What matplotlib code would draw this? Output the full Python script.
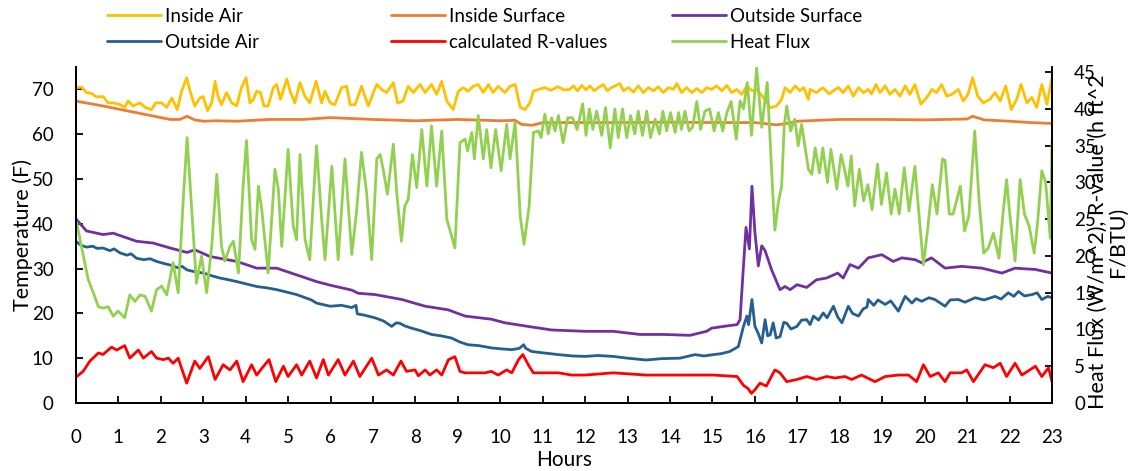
import matplotlib
matplotlib.use("Agg")
import matplotlib.pyplot as plt

plt.rcParams['font.family'] = ['Lato', 'DejaVu Sans']
plt.rcParams['font.size'] = 13.5

# Inside Air (F)
ia_h = [0.02, 0.13, 0.25, 0.37, 0.49, 0.64, 0.76, 0.88, 1.04, 1.15, 1.23, 1.35, 1.51, 1.63, 1.78, 1.88, 2.02,
        2.14, 2.26, 2.39, 2.49, 2.61, 2.70, 2.80, 2.92, 3.00, 3.10, 3.20, 3.28, 3.35, 3.43, 3.55, 3.67, 3.79,
        3.90, 4.01, 4.10, 4.18, 4.26, 4.35, 4.43, 4.53, 4.65, 4.73, 4.82, 4.97, 5.06, 5.16, 5.28, 5.40, 5.51,
        5.66, 5.79, 5.87, 5.99, 6.10, 6.26, 6.38, 6.46, 6.58, 6.73, 6.89, 7.01, 7.09, 7.20, 7.32, 7.48, 7.58,
        7.71, 7.83, 7.95, 8.11, 8.23, 8.38, 8.50, 8.62, 8.74, 8.89, 9.01, 9.13, 9.24, 9.36, 9.48, 9.60, 9.72,
        9.83, 9.95, 10.11, 10.23, 10.35, 10.47, 10.58, 10.70, 10.78, 10.90, 11.05, 11.20, 11.35, 11.50,
        11.64, 11.72, 11.82, 11.92, 12.02, 12.11, 12.21, 12.31, 12.43, 12.52, 12.62, 12.82, 12.90, 13.02,
        13.14, 13.25, 13.37, 13.49, 13.61, 13.72, 13.84, 13.96, 14.08, 14.16, 14.27, 14.39, 14.51, 14.63,
        14.75, 14.86, 14.98, 15.10, 15.22, 15.34, 15.45, 15.57, 15.69, 15.81, 15.93, 16.04, 16.20, 16.36,
        16.51, 16.63, 16.71, 16.83, 16.95, 17.06, 17.15, 17.26, 17.30, 17.45, 17.60, 17.75, 17.89, 17.97,
        18.08, 18.20, 18.32, 18.44, 18.56, 18.67, 18.75, 18.85, 18.95, 19.07, 19.18, 19.30, 19.42, 19.54,
        19.65, 19.77, 19.91, 20.05, 20.17, 20.28, 20.40, 20.52, 20.64, 20.79, 20.91, 21.02, 21.13, 21.25,
        21.38, 21.54, 21.66, 21.78, 21.91, 22.04, 22.17, 22.27, 22.41, 22.52, 22.64, 22.76, 22.88, 23.0]
ia_t = [70.4, 70.5, 69.3, 69.1, 68.3, 68.4, 67.0, 67.0, 66.6, 66.0, 67.4, 66.3, 67.0, 66.0, 65.5, 67.0, 67.0,
        66.0, 68.1, 65.5, 69.6, 72.6, 69.3, 66.3, 68.1, 68.4, 65.2, 67.0, 71.8, 68.4, 66.6, 69.3, 67.0, 66.3,
        70.4, 72.6, 67.0, 67.7, 69.6, 69.3, 66.3, 66.3, 70.4, 71.1, 67.8, 72.3, 69.3, 67.0, 71.5, 68.4, 67.0,
        71.8, 67.0, 69.6, 67.0, 66.6, 70.4, 70.7, 66.6, 66.6, 70.7, 66.3, 69.3, 71.1, 70.0, 69.3, 71.5, 67.0,
        67.4, 70.7, 69.3, 71.1, 69.3, 71.1, 68.9, 71.8, 67.4, 65.5, 69.6, 70.4, 69.6, 70.7, 71.1, 69.3, 71.1,
        69.3, 70.7, 69.3, 70.7, 71.1, 66.0, 65.5, 67.0, 69.6, 70.0, 70.4, 69.8, 70.6, 69.9,
        70.0, 70.8, 69.7, 70.9, 69.9, 70.8, 69.7, 70.4, 71.1, 69.7, 70.4, 71.3, 69.7, 70.4,
        69.4, 70.8, 69.3, 70.4, 69.7, 70.6, 69.3, 70.4, 70.0, 71.3, 69.3, 70.4, 69.3, 70.2,
        69.3, 70.4, 70.0, 70.8, 69.7, 70.9, 69.3, 70.0, 68.9, 70.8, 69.7, 70.0, 68.2, 65.9,
        66.3, 67.8, 70.4, 69.3, 70.8, 69.7, 70.4, 67.8, 70.0, 69.3, 70.4, 69.0, 70.0, 70.4,
        69.3, 70.8, 68.5, 70.4, 69.3, 70.0, 69.0, 71.1, 69.3, 70.8, 68.9, 70.0, 68.5, 70.8,
        68.9, 71.1, 66.7, 68.2, 70.0, 69.3, 71.1, 68.5, 68.9, 70.0, 67.4, 68.9, 72.6, 68.5,
        67.0, 67.8, 69.3, 67.4, 70.8, 65.5, 67.8, 71.1, 67.0, 68.2, 66.0, 71.1, 66.7, 72.6]

# Inside Surface (F)
is_h = [0.0, 0.64, 1.43, 2.22, 2.45, 2.62, 2.8, 3.0, 3.3, 3.79, 4.57, 5.36, 5.99, 7.0, 8.0, 9.0, 10.0, 10.35,
        10.5, 10.75, 11.0, 12.0, 13.0, 14.0, 15.0, 16.0, 16.3, 16.5, 16.7, 17.0, 18.0, 19.0, 20.0, 21.0, 21.13,
        21.4, 22.0, 22.5, 23.0]
is_t = [67.4, 66.3, 64.8, 63.3, 63.3, 64.0, 63.2, 62.9, 63.0, 62.9, 63.3, 63.3, 63.7, 63.3, 63.0, 63.3, 63.0,
        63.1, 62.2, 62.0, 62.6, 62.6, 62.6, 62.7, 62.6, 62.6, 62.3, 62.1, 62.3, 62.9, 63.3, 63.3, 63.2, 63.4,
        64.0, 63.2, 62.9, 62.6, 62.4]

# Outside Surface (F)
os_h = [0.0, 0.25, 0.64, 0.88, 1.43, 1.82, 2.22, 2.62, 2.80, 3.16, 3.79, 4.26, 4.73, 5.20, 5.67, 5.99, 6.50,
        6.65, 7.05, 7.68, 8.23, 8.77, 9.17, 9.79, 10.11, 10.58, 11.21, 12.0, 12.66, 13.29, 13.84, 14.47,
        14.86, 14.98, 15.26, 15.58, 15.65, 15.73, 15.79, 15.87, 15.93, 16.00, 16.08, 16.16, 16.24, 16.39,
        16.59, 16.71, 16.83, 16.99, 17.22, 17.45, 17.69, 17.95, 18.08, 18.24, 18.44, 18.67, 18.99, 19.26,
        19.46, 19.77, 19.93, 20.16, 20.48, 20.87, 21.35, 21.82, 22.13, 22.61, 23.0]
os_t = [41.1, 38.4, 37.6, 37.9, 36.1, 35.7, 34.6, 33.6, 34.2, 32.7, 31.6, 30.1, 30.1, 28.6, 27.1, 26.3, 25.2,
        24.5, 24.2, 23.1, 21.6, 20.8, 19.4, 18.7, 17.9, 17.2, 16.3, 16.0, 16.0, 15.3, 15.3, 15.1,
        16.0, 16.7, 17.1, 17.5, 18.6, 30.6, 39.2, 34.4, 48.4, 38.1, 30.6, 35.1, 34.0, 29.8,
        25.3, 26.0, 25.3, 26.4, 25.8, 27.5, 27.9, 29.0, 27.9, 30.9, 30.1, 32.4, 33.1, 31.6,
        32.4, 32.0, 31.3, 32.4, 30.1, 30.5, 30.1, 29.0, 30.1, 29.8, 29.0]

# Outside Air (F)
oa_h = [0.0, 0.12, 0.25, 0.4, 0.5, 0.64, 0.8, 0.9, 1.04, 1.2, 1.3, 1.43, 1.6, 1.75, 1.9, 2.05, 2.22, 2.4, 2.5,
        2.62, 2.8, 3.01, 3.2, 3.39, 3.6, 3.79, 4.0, 4.26, 4.5, 4.73, 4.95, 5.2, 5.4, 5.55, 5.67, 5.85, 5.99,
        6.26, 6.5, 6.60, 6.63, 6.8, 7.05, 7.25, 7.44, 7.55, 7.63, 7.75, 7.91, 8.1, 8.38, 8.6, 8.85, 9.05,
        9.24, 9.5, 9.79, 10.0, 10.27, 10.45, 10.55, 10.6, 10.74, 11.0, 11.37, 11.7, 12.0, 12.3, 12.66, 13.0,
        13.44, 13.8, 14.23, 14.59, 14.8, 15.02, 15.2, 15.41, 15.61, 15.73, 15.81, 15.85, 15.93, 16.0, 16.08,
        16.16, 16.24, 16.30, 16.36, 16.43, 16.5, 16.59, 16.68, 16.75, 16.85, 16.99, 17.1, 17.22, 17.3,
        17.38, 17.5, 17.61, 17.7, 17.85, 17.95, 18.05, 18.2, 18.3, 18.44, 18.55, 18.64, 18.67, 18.8, 18.9,
        19.07, 19.2, 19.38, 19.54, 19.7, 19.8, 19.93, 20.1, 20.24, 20.35, 20.48, 20.6, 20.79, 20.95, 21.19,
        21.4, 21.66, 21.8, 21.97, 22.1, 22.21, 22.35, 22.53, 22.65, 22.76, 22.9, 23.0]
oa_t = [36.1, 35.2, 34.8, 35.0, 34.5, 34.6, 34.0, 34.4, 33.5, 33.0, 33.3, 32.3, 32.0, 32.2, 31.6, 31.2, 30.8,
        30.2, 30.5, 29.7, 29.3, 29.0, 28.4, 27.9, 27.5, 27.1, 26.6, 26.0, 25.7, 25.3, 24.8, 24.2, 23.5, 23.0,
        22.3, 21.9, 21.6, 21.8, 21.3, 21.8, 19.9, 19.6, 19.0, 18.3, 17.1, 17.9, 17.8, 17.2, 16.7, 16.2,
        15.3, 15.0, 14.5, 13.6, 13.0, 12.8, 12.3, 12.1, 11.9, 12.2, 13.0, 12.2, 11.5, 11.2, 10.8, 10.5,
        10.4, 10.6, 10.4, 10.0, 9.6, 9.9, 10.0, 10.8, 10.5, 10.8, 11.0, 11.5, 12.6, 17.1, 19.4, 17.5,
        23.1, 17.1, 15.5, 13.4, 18.6, 15.0, 15.2, 17.9, 14.5, 14.8, 18.0, 17.8, 16.5, 17.1, 18.5, 18.6,
        17.5, 19.4, 18.5, 20.1, 19.0, 21.6, 19.2, 17.9, 21.6, 20.0, 19.4, 21.0, 21.4, 23.1, 21.8, 23.0,
        22.0, 22.8, 20.5, 23.8, 22.3, 23.3, 22.7, 23.5, 23.1, 22.4, 21.6, 23.0, 23.1, 22.5, 23.5, 23.0,
        23.8, 23.2, 24.6, 23.8, 24.9, 23.9, 24.2, 24.6, 23.1, 23.8, 23.5]

# calculated R-values (h ft^2 F/BTU)
rv_h = [0.02, 0.17, 0.33, 0.53, 0.64, 0.84, 0.96, 1.15, 1.27, 1.47, 1.59, 1.78, 1.90, 2.06, 2.18, 2.29, 2.41,
        2.61, 2.80, 2.92, 3.12, 3.28, 3.47, 3.63, 3.79, 3.94, 4.14, 4.26, 4.38, 4.55, 4.71, 4.89, 5.00, 5.20,
        5.32, 5.51, 5.67, 5.83, 5.95, 6.18, 6.34, 6.54, 6.69, 6.97, 7.13, 7.32, 7.48, 7.66, 7.79, 7.99,
        8.07, 8.23, 8.34, 8.50, 8.62, 8.78, 8.93, 9.05, 9.17, 9.40, 9.64, 9.79, 9.95, 10.15, 10.27, 10.43,
        10.53, 10.66, 10.78, 11.05, 11.37, 11.68, 12.0, 12.66, 13.44, 14.23, 15.02, 15.58, 15.73, 15.83,
        15.92, 16.00, 16.12, 16.27, 16.47, 16.59, 16.75, 16.99, 17.22, 17.45, 17.69, 17.89, 18.12, 18.28,
        18.51, 18.83, 19.07, 19.38, 19.62, 19.81, 19.97, 20.13, 20.32, 20.48, 20.60, 20.87, 20.99, 21.15,
        21.42, 21.62, 21.78, 21.93, 22.13, 22.29, 22.61, 22.76, 22.92, 23.0]
rv_v = [3.6, 4.3, 5.7, 6.8, 6.6, 7.6, 7.2, 7.8, 6.1, 7.2, 6.1, 7.0, 6.1, 5.9, 6.1, 5.4, 6.1,
        2.7, 5.7, 4.7, 6.3, 3.2, 5.2, 4.5, 5.7, 2.9, 5.2, 3.8, 4.7, 5.9, 2.9, 5.0, 3.6, 5.2,
        3.8, 5.7, 3.4, 5.9, 3.8, 5.9, 3.8, 5.7, 3.6, 6.1, 3.8, 4.5, 3.8, 5.7, 4.3, 4.5,
        3.7, 4.5, 3.8, 4.5, 3.8, 5.9, 6.3, 4.3, 4.1, 4.1, 4.1, 4.3, 3.8, 4.5, 4.1, 5.9,
        6.6, 5.2, 4.1, 4.1, 4.1, 3.8, 3.8, 4.1, 3.8, 3.8, 3.8, 3.6, 2.4, 2.0,
        1.3, 1.8, 2.7, 2.3, 4.5, 4.1, 2.9, 3.2, 3.6, 3.2, 3.6, 3.4, 3.6, 3.2,
        3.8, 2.9, 3.6, 3.8, 3.8, 2.9, 5.2, 3.6, 4.1, 2.9, 4.1, 4.1, 4.5, 2.9,
        5.2, 4.8, 5.4, 3.6, 5.4, 3.8, 5.0, 3.6, 4.8, 2.9]

# Heat Flux (W/m^2)
hf_h = [0.02, 0.13, 0.29, 0.41, 0.53, 0.64, 0.76, 0.88, 0.99, 1.15, 1.27, 1.39, 1.51, 1.63, 1.78, 1.90, 2.02,
        2.14, 2.29, 2.41, 2.53, 2.62, 2.73, 2.84, 2.96, 3.08, 3.20, 3.32, 3.43, 3.51, 3.63, 3.71, 3.83, 3.94,
        4.02, 4.14, 4.22, 4.30, 4.38, 4.53, 4.69, 4.77, 4.85, 5.00, 5.12, 5.20, 5.28, 5.40, 5.51, 5.67, 5.79,
        5.87, 6.03, 6.18, 6.34, 6.50, 6.61, 6.73, 6.85, 6.97, 7.09, 7.17, 7.24, 7.34, 7.48, 7.56, 7.67, 7.75,
        7.83, 7.93, 8.03, 8.15, 8.27, 8.38, 8.50, 8.62, 8.74, 8.93, 9.05, 9.17, 9.23, 9.33, 9.39, 9.48, 9.60,
        9.68, 9.78, 9.89, 10.02, 10.15, 10.23, 10.35, 10.47, 10.56, 10.68, 10.78, 10.90, 10.96, 11.05, 11.13,
        11.21, 11.29, 11.37, 11.48, 11.59, 11.70, 11.81, 11.94, 12.02, 12.10, 12.18, 12.27, 12.39, 12.48,
        12.59, 12.70, 12.78, 12.88, 12.98, 13.07, 13.17, 13.25, 13.35, 13.45, 13.54, 13.65, 13.75, 13.83,
        13.92, 14.01, 14.12, 14.20, 14.27, 14.35, 14.45, 14.53, 14.63, 14.72, 14.82, 14.93, 15.04, 15.14,
        15.24, 15.34, 15.44, 15.56, 15.65, 15.73, 15.82, 15.92, 16.04, 16.16, 16.29, 16.36, 16.42, 16.47,
        16.55, 16.63, 16.69, 16.75, 16.84, 16.94, 17.02, 17.10, 17.26, 17.34, 17.42, 17.52, 17.60, 17.71,
        17.79, 17.93, 18.03, 18.11, 18.19, 18.27, 18.35, 18.46, 18.56, 18.66, 18.76, 18.89, 18.98, 19.10,
        19.21, 19.30, 19.40, 19.52, 19.63, 19.77, 19.87, 19.97, 20.07, 20.18, 20.29, 20.42, 20.48, 20.58,
        20.67, 20.84, 20.94, 21.04, 21.18, 21.28, 21.39, 21.50, 21.62, 21.75, 21.84, 21.93, 22.01, 22.13,
        22.25, 22.35, 22.46, 22.58, 22.66, 22.76, 22.85, 22.96, 23.0]
hf_v = [24.5, 21.3, 16.8, 15.0, 13.1, 12.9, 13.1, 11.8, 12.5, 11.6, 14.7, 13.8, 14.7, 14.5, 12.5, 15.4, 15.9,
        14.7, 19.1, 15.0, 27.7, 36.1, 26.3, 16.3, 20.0, 15.0, 21.3, 31.1, 21.3, 19.3, 21.3, 22.0, 17.7, 29.5,
        35.7, 22.2, 20.9, 29.5, 26.3, 17.7, 31.8, 29.1, 21.3, 34.5, 24.1, 22.2, 33.8, 22.2, 19.5, 35.0, 25.0,
        19.5, 32.2, 19.5, 33.2, 20.2, 25.9, 34.1, 28.6, 19.5, 33.2, 33.8, 31.8, 28.4, 35.2, 28.6, 22.0, 26.8,
        27.7, 33.8, 29.3, 37.2, 29.5, 37.7, 29.5, 37.0, 25.0, 21.1, 35.4, 35.9, 34.3, 36.8, 33.2, 39.1, 33.2,
        37.2, 32.0, 37.2, 31.6, 37.9, 33.2, 38.2, 25.4, 21.6, 26.8, 36.8, 37.0, 36.1, 39.3, 36.6,
        38.8, 37.0, 39.1, 35.4, 38.8, 38.8, 37.2, 40.7, 36.4, 40.0, 37.2, 39.7, 36.4, 40.2,
        34.7, 40.0, 36.1, 40.0, 36.1, 39.1, 36.6, 39.7, 36.4, 39.7, 36.1, 38.6, 36.6, 39.7,
        37.0, 39.5, 36.8, 39.5, 37.2, 39.7, 37.0, 37.5, 41.0, 37.2, 39.7, 40.0, 37.0, 39.5,
        37.0, 39.5, 41.0, 35.9, 41.1, 40.0, 43.6, 36.4, 45.6, 37.5, 43.6, 35.4, 28.6, 23.5,
        27.2, 29.5, 37.7, 40.4, 37.0, 38.6, 35.0, 37.9, 31.8, 31.1, 34.7, 31.3, 34.7, 30.0,
        34.5, 29.1, 33.8, 31.8, 29.5, 33.6, 26.8, 31.8, 27.5, 29.7, 26.3, 32.5, 27.0, 31.3,
        25.7, 29.1, 25.7, 32.0, 26.1, 32.2, 25.4, 18.8, 23.6, 29.7, 25.7, 33.2, 33.0, 25.7,
        25.7, 29.5, 23.4, 25.4, 37.0, 27.7, 20.4, 21.1, 23.1, 19.7, 25.4, 30.4, 25.4, 19.3,
        30.4, 25.7, 24.1, 20.4, 24.5, 31.6, 30.0, 22.4, 35.4]

fig = plt.figure(figsize=(11.33, 4.71), dpi=100)
ax = fig.add_axes([0.067, 0.1444, 0.8615, 0.7133])
ax2 = ax.twinx()

lw = 2.0
kw = dict(lw=lw, solid_joinstyle='round', solid_capstyle='round')
l1, = ax.plot(ia_h, ia_t, color='#FFC000', label='Inside Air', **kw)
l2, = ax.plot(is_h, is_t, color='#ED7D31', label='Inside Surface', **kw)
l3, = ax.plot(os_h, os_t, color='#7030A0', label='Outside Surface', **kw)
l4, = ax.plot(oa_h, oa_t, color='#255E91', label='Outside Air', **kw)
l5, = ax2.plot(rv_h, rv_v, color='#FF0000', label='calculated R-values', **kw)
l6, = ax2.plot(hf_h, hf_v, color='#92D050', label='Heat Flux', **kw)

ax.set_xlim(0, 23)
ax.set_ylim(0, 75)
ax2.set_ylim(0, 45.7)
ax.set_xticks(range(24))
ax.set_yticks(range(0, 71, 10))
ax2.set_yticks(range(0, 46, 5))

for a in (ax, ax2):
    a.spines['top'].set_visible(False)
    for s in a.spines.values():
        s.set_linewidth(1.4)
ax.spines['right'].set_visible(False)
ax.tick_params(axis='x', direction='in', length=5, width=1.3, pad=19)
ax.tick_params(axis='y', direction='in', length=5, width=1.3, pad=16)
ax2.tick_params(axis='y', direction='in', length=5, width=1.3, pad=16)

ax.set_xlabel('Hours', va='center', fontsize=15)
ax.xaxis.set_label_coords(0.5, -0.17)
ax.set_ylabel('Temperature (F)', va='center', fontsize=15.5)
ax.yaxis.set_label_coords(-0.055, 0.5)
ax2.set_ylabel('Heat Flux (W/m^2), R-value (h ft^2\nF/BTU)', va='center', linespacing=1.0, fontsize=15.5)
ax2.yaxis.set_label_coords(1.057, 0.48)

# legend: three columns placed separately
cols = [([l1, l4], 0.094), ([l2, l5], 0.345), ([l3, l6], 0.593)]
for hs, x0 in cols:
    fig.legend(handles=hs, loc='upper left', bbox_to_anchor=(x0, 0.984), frameon=False,
               handlelength=2.9, handletextpad=0.2, borderpad=0, borderaxespad=0, labelspacing=0.5)

fig.savefig('out.png', dpi=100)
